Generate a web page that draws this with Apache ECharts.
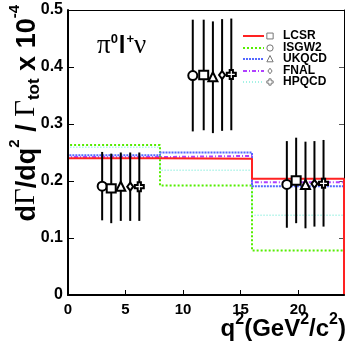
<!DOCTYPE html>
<html>
<head>
<meta charset="utf-8">
<script src="https://cdn.jsdelivr.net/npm/echarts@6/dist/echarts.min.js"></script>
<style>
html, body { margin: 0; padding: 0; background: #fff; }
#chart { width: 346px; height: 346px; }
</style>
</head>
<body>
<div id="chart"></div>
<script>
// q2 bins of the predictions
const binEdges = [0, 8, 16, 24];
const models = ["LCSR", "ISGW2", "UKQCD", "FNAL", "HPQCD"];

// model predictions per bin
const predLCSR = [0.240, 0.239, 0.204];
const predISGW2 = [0.263, 0.192, 0.078];
const predUKQCD = [0.245, 0.250, 0.191];
const predFNAL = [0.242, 0.244, 0.198];
const predHPQCD = [0.259, 0.219, 0.140];

// measured points (black), one set per model
const q2ISGW2 = [2.97, 10.85, 19.03], yISGW2 = [0.191, 0.385, 0.194], eISGW2 = [0.060, 0.098, 0.076];
const q2LCSR = [3.76, 11.8, 19.84], yLCSR = [0.187, 0.386, 0.201], eLCSR = [0.061, 0.097, 0.075];
const q2UKQCD = [4.59, 12.6, 20.65], yUKQCD = [0.190, 0.382, 0.193], eUKQCD = [0.060, 0.098, 0.076];
const q2FNAL = [5.41, 13.4, 21.43], yFNAL = [0.190, 0.386, 0.195], eFNAL = [0.060, 0.098, 0.075];
const q2HPQCD = [6.2, 14.2, 22.22], yHPQCD = [0.190, 0.387, 0.196], eHPQCD = [0.060, 0.098, 0.076];

const xTicks = [0, 5, 10, 15, 20];
const yTicks = ["0", "0.1", "0.2", "0.3", "0.4", "0.5"];

const FONT = "Liberation Sans, Arial, sans-serif";
const SERIF = "Liberation Serif, Times New Roman, serif";

const lineStyles = {
  LCSR: { color: "#ff2222", width: 2, type: "solid" },
  ISGW2: { color: "#55ee00", width: 2, type: [2, 2] },
  UKQCD: { color: "#5468ff", width: 2, type: [2, 1] },
  FNAL: { color: "#b040ff", width: 2, type: [4, 2, 1, 2] },
  HPQCD: { color: "#88eedd", width: 1.5, type: [1, 2] },
};
const markerOf = { LCSR: "square", ISGW2: "circle", UKQCD: "triangle", FNAL: "diamond", HPQCD: "cross" };

function stepData(vals) {
  const d = [[binEdges[0], 0]];
  vals.forEach((v, i) => {
    d.push([binEdges[i], v]);
    d.push([binEdges[i + 1], v]);
  });
  d.push([binEdges[binEdges.length - 1], 0]);
  return d;
}

function markerEl(shape, cx, cy, s, stroke, lw) {
  const style = { fill: "#fff", stroke: stroke, lineWidth: lw };
  if (shape === "circle") return { type: "circle", shape: { cx: cx, cy: cy, r: 4.5 * s }, style: style };
  if (shape === "square") return { type: "rect", shape: { x: cx - 4.5 * s, y: cy - 4.2 * s, width: 9 * s, height: 8.4 * s }, style: style };
  if (shape === "triangle") return { type: "polygon", shape: { points: [[cx, cy - 5 * s], [cx + 4.5 * s, cy + 4 * s], [cx - 4.5 * s, cy + 4 * s]] }, style: style };
  if (shape === "diamond") return { type: "polygon", shape: { points: [[cx, cy - 4 * s], [cx + 3 * s, cy], [cx, cy + 4 * s], [cx - 3 * s, cy]] }, style: style };
  const a = 4.5 * s, t = 1.6 * s;
  return {
    type: "polygon",
    shape: { points: [[cx - t, cy - a], [cx + t, cy - a], [cx + t, cy - t], [cx + a, cy - t], [cx + a, cy + t], [cx + t, cy + t],
      [cx + t, cy + a], [cx - t, cy + a], [cx - t, cy + t], [cx - a, cy + t], [cx - a, cy - t], [cx - t, cy - t]] },
    style: style,
  };
}

function errRender(shape) {
  return function (params, api) {
    const x = api.value(0), y = api.value(1), e = api.value(2);
    const c = api.coord([x, y]);
    const t = api.coord([x, y + e]);
    const b = api.coord([x, y - e]);
    return {
      type: "group",
      children: [
        { type: "line", shape: { x1: c[0], y1: t[1], x2: c[0], y2: b[1] }, style: { stroke: "#000", lineWidth: 2 } },
        markerEl(shape, c[0], c[1], 1, "#000", 2),
      ],
    };
  };
}

const preds = { LCSR: predLCSR, ISGW2: predISGW2, UKQCD: predUKQCD, FNAL: predFNAL, HPQCD: predHPQCD };
const meas = {
  ISGW2: [q2ISGW2, yISGW2, eISGW2],
  LCSR: [q2LCSR, yLCSR, eLCSR],
  UKQCD: [q2UKQCD, yUKQCD, eUKQCD],
  FNAL: [q2FNAL, yFNAL, eFNAL],
  HPQCD: [q2HPQCD, yHPQCD, eHPQCD],
};

const series = [];
["HPQCD", "ISGW2", "UKQCD", "FNAL", "LCSR"].forEach((m) => {
  series.push({
    name: m,
    type: "line",
    data: stepData(preds[m]),
    symbol: "none",
    z: 2,
    lineStyle: lineStyles[m],
    animation: false,
  });
});
["ISGW2", "LCSR", "UKQCD", "FNAL", "HPQCD"].forEach((m) => {
  const [xs, ys, es] = meas[m];
  series.push({
    name: m + " data",
    type: "custom",
    z: 5,
    renderItem: errRender(markerOf[m]),
    data: xs.map((x, i) => [x, ys[i], es[i]]),
    animation: false,
  });
});

// legend drawn as graphic: line sample, marker, label
const legendY = [36, 48, 59, 71, 82];
const legendEls = [];
models.forEach((m, i) => {
  const ls = lineStyles[m];
  legendEls.push({
    type: "line",
    shape: { x1: 243, y1: legendY[i], x2: 264, y2: legendY[i] },
    style: { stroke: ls.color, lineWidth: ls.width, lineDash: ls.type === "solid" ? null : ls.type },
  });
  legendEls.push(markerEl(markerOf[m], 270, legendY[i], 0.7, "#777", 1));
  legendEls.push({
    type: "text",
    x: 283,
    y: legendY[i],
    style: { text: m, font: "bold 12px " + FONT, fill: "#000", verticalAlign: "middle" },
  });
});

const chart = echarts.init(document.getElementById("chart"), null, { renderer: "canvas" });
chart.setOption({
  backgroundColor: "#fff",
  animation: false,
  grid: { left: 68, right: 2, top: 10, bottom: 51, containLabel: false, outerBoundsMode: "none" },
  xAxis: [
    {
      type: "value", min: 0, max: 24, interval: 5, z: 10,
      axisLine: { lineStyle: { color: "#000", width: 2 } },
      axisTick: { inside: true, length: 5, lineStyle: { color: "#000", width: 1 } },
      axisLabel: {
        color: "#000", fontWeight: "bold", fontSize: 15, fontFamily: FONT, margin: 7, showMaxLabel: false,
        formatter: (v) => (xTicks.indexOf(v) >= 0 ? String(v) : ""),
      },
      splitLine: { show: false },
    },
    {
      type: "value", position: "top", min: 0, max: 24, z: 10,
      axisLine: { show: true, onZero: false, lineStyle: { color: "#000", width: 1 } },
      axisTick: { show: false }, axisLabel: { show: false }, splitLine: { show: false },
    },
  ],
  yAxis: [
    {
      type: "value", min: 0, max: 0.5, interval: 0.1, z: 10,
      axisLine: { show: true, lineStyle: { color: "#000", width: 2 } },
      axisTick: { show: true, inside: true, length: 6, lineStyle: { color: "#000", width: 1 } },
      axisLabel: {
        color: "#000", fontWeight: "bold", fontSize: 16, fontFamily: FONT, margin: 5,
        formatter: (v) => yTicks[Math.round(v * 10)],
      },
      splitLine: { show: false },
    },
    {
      type: "value", position: "right", min: 0, max: 0.5, interval: 0.1,
      axisLine: { show: true, onZero: false, lineStyle: { color: "#000", width: 1 } },
      axisTick: { show: true, inside: true, length: 5, lineStyle: { color: "#555", width: 1 } },
      axisLabel: { show: false }, splitLine: { show: false },
    },
  ],
  series: series,
  graphic: [
    {
      type: "text", x: 97, y: 31, z: 10,
      style: {
        text: "{g|π}{sup|0}{b|l}{sup|+}{g|ν}",
        verticalAlign: "top",
        rich: {
          g: { fontFamily: SERIF, fontSize: 27, fill: "#000", verticalAlign: "top", padding: [1, 0, 0, 0] },
          b: { fontFamily: FONT, fontWeight: "bold", fontSize: 24, fill: "#000", verticalAlign: "top", padding: [3.2, 1, 0, 1] },
          sup: { fontFamily: FONT, fontWeight: "bold", fontSize: 13, fill: "#000", verticalAlign: "top", padding: [2, 0, 0, 0] },
        },
      },
    },
    {
      type: "text", x: 346, y: 311, z: 10,
      style: {
        text: "{b|q}{sup|2}{b|(GeV}{sup|2}{b|/c}{sup|2}{b|)}",
        align: "right", verticalAlign: "top",
        rich: {
          b: { fontFamily: FONT, fontWeight: "bold", fontSize: 24, fill: "#000", verticalAlign: "top", padding: [6, 0, 0, 0] },
          sup: { fontFamily: FONT, fontWeight: "bold", fontSize: 16, fill: "#000", verticalAlign: "top", padding: [1, 0, 0, 0] },
        },
      },
    },
    {
      type: "text", x: 6, y: 5, rotation: Math.PI / 2, z: 10,
      style: {
        text: "{b|d}{g|Γ}{b|/dq}{sup|2}{b| / }{g|Γ}{sub|tot}{b| x 10}{sup|-4}",
        align: "right", verticalAlign: "top",
        rich: {
          b: { fontFamily: FONT, fontWeight: "bold", fontSize: 27, fill: "#000", verticalAlign: "top", padding: [8, 0, 0, 0] },
          g: { fontFamily: SERIF, fontSize: 29, fill: "#000", verticalAlign: "top", padding: [6, 0, 0, 0] },
          sup: { fontFamily: FONT, fontWeight: "bold", fontSize: 15, fill: "#000", verticalAlign: "top", padding: [1, 0, 0, 0] },
          sub: { fontFamily: FONT, fontWeight: "bold", fontSize: 17, fill: "#000", verticalAlign: "top", padding: [19.5, 0, 0, 0] },
        },
      },
    },
  ].concat(legendEls),
});
</script>
</body>
</html>
